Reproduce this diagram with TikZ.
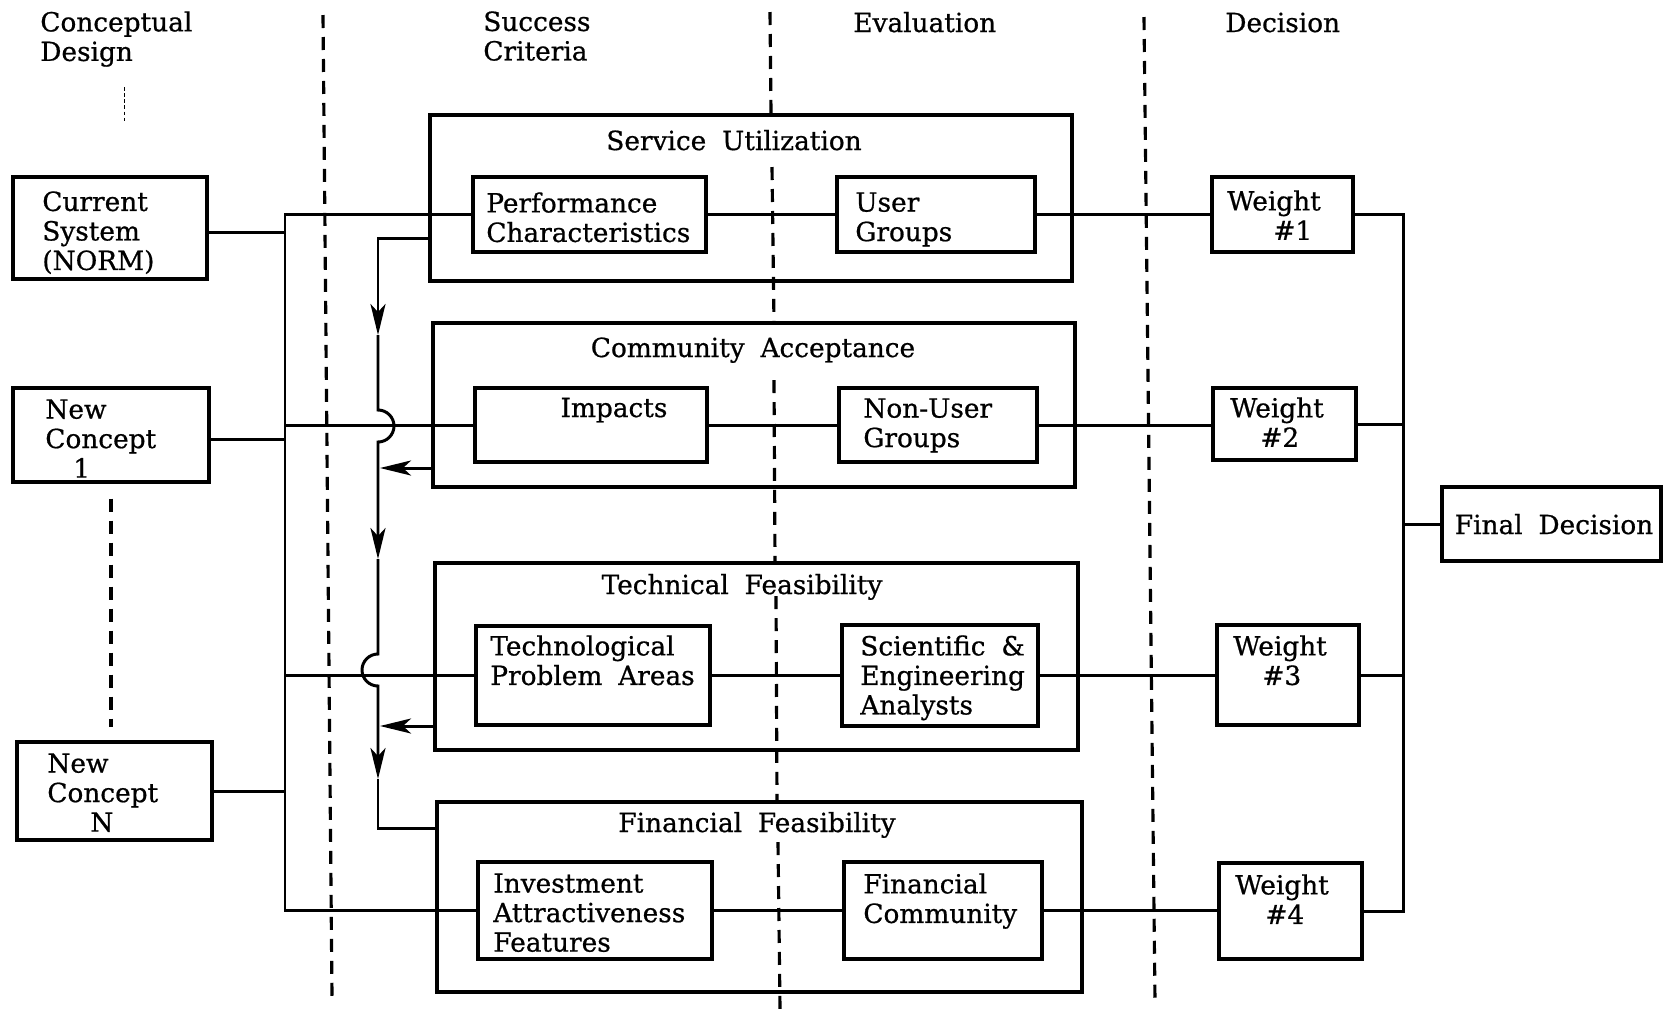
\documentclass[tikz,border=0pt]{standalone}
\usepackage{fontspec}
\setmainfont{DejaVu Serif}[FakeBold=0.7]
\usetikzlibrary{arrows.meta, fit}

\begin{document}
\begin{tikzpicture}[
    x=0.02cm, y=-0.02cm,
    box/.style={draw, rectangle, line width=1.8pt, inner sep=0pt},
    txt/.style={inner sep=0pt, align=left},
    wire/.style={line width=1.7pt},
    arrow/.style={wire, -{Stealth[length=0.62cm, width=0.3cm, inset=0.16cm]}},
    sep/.style={line width=1.8pt, dash pattern=on 0.26cm off 0.18cm},
    font={\fontsize{15}{16.8}\selectfont\spaceskip=0.6em\relax}
]
\useasboundingbox (0,0) rectangle (1669,1009);

% Column headings
\node[txt, anchor=north west] (hdCon) at (40,11) {Conceptual\\Design};
\node[txt, anchor=north west] (hdSuc) at (483,11) {Success\\Criteria};
\node[txt, anchor=base west] (hdEva) at (853,32) {Evaluation};
\node[txt, anchor=base west] (hdDec) at (1225,32) {Decision};

% Separators
\draw[sep] (323,15) -- (332,996);
\draw[sep] (770,12) -- (771,113);
\draw[sep] (772,167) -- (774,323);
\draw[sep] (774,380) -- (775,563);
\draw[sep] (776,596) -- (777,802);
\draw[sep] (778,842) -- (780,1009);
\draw[sep] (1144,17) -- (1155,1002);
\draw[line width=0.4pt, dash pattern=on 2pt off 1.5pt] (124,87) -- (124,122);

% Concepts
\node[box, fit={(13,177) (207,279)}] (cur) {};
\node[txt, anchor=north west] (curT) at (42,191) {Current\\System\\(NORM)};
\node[box, fit={(13,388) (209,482)}] (nc1) {};
\node[txt, anchor=north west] (nc1T) at (45,399) {New\\Concept\\\hspace*{0.56cm}1};
\node[box, fit={(17,742) (212,840)}] (ncN) {};
\node[txt, anchor=north west] (ncNT) at (47,753) {New\\Concept\\\hspace*{0.86cm}N};
\draw[sep, shorten <=0.3cm, shorten >=0.26cm] (nc1.south) -- (nc1.south |- ncN.north);

% Criteria groups
\node[box, fit={(430,115) (1072,281)}] (su) {};
\node[txt, anchor=base] (suT) at (734,150) {Service Utilization};
\node[box, fit={(433,323) (1075,487)}] (ca) {};
\node[txt, anchor=base] (caT) at (753,357) {Community Acceptance};
\node[box, fit={(435,563) (1078,750)}] (tf) {};
\node[txt, anchor=base] (tfT) at (742,594) {Technical Feasibility};
\node[box, fit={(437,802) (1082,992)}] (ff) {};
\node[txt, anchor=base] (ffT) at (757,832) {Financial Feasibility};

% Criteria and evaluators
\node[box, fit={(473,177) (706,252)}] (perf) {};
\node[txt, anchor=north west] (perfT) at (486,192) {Performance\\Characteristics};
\node[box, fit={(837,177) (1035,252)}] (usr) {};
\node[txt, anchor=north west] (usrT) at (855,192) {User\\Groups};
\node[box, fit={(475,388) (707,462)}] (imp) {};
\node[txt, anchor=base] (impT) at (614,417) {Impacts};
\node[box, fit={(839,388) (1037,462)}] (nonu) {};
\node[txt, anchor=north west] (nonuT) at (863,398) {Non-User\\Groups};
\node[box, fit={(476,626) (710,725)}] (tech) {};
\node[txt, anchor=north west] (techT) at (490,635) {Technological\\Problem Areas};
\node[box, fit={(842,625) (1038,726)}] (sci) {};
\node[txt, anchor=north west] (sciT) at (860,635) {Scientific \&\\Engineering\\Analysts};
\node[box, fit={(478,862) (712,959)}] (inv) {};
\node[txt, anchor=north west] (invT) at (493,873) {Investment\\Attractiveness\\Features};
\node[box, fit={(844,862) (1042,959)}] (fin) {};
\node[txt, anchor=north west] (finT) at (863,873) {Financial\\Community};

% Weights and decision
\node[box, fit={(1212,177) (1353,252)}] (w1) {};
\node[txt, anchor=north west] (w1T) at (1227,190) {Weight\\\hspace*{0.92cm}\#1};
\node[box, fit={(1213,388) (1356,460)}] (w2) {};
\node[txt, anchor=north west] (w2T) at (1230,397) {Weight\\\hspace*{0.6cm}\#2};
\node[box, fit={(1217,625) (1359,725)}] (w3) {};
\node[txt, anchor=north west] (w3T) at (1233,635) {Weight\\\hspace*{0.58cm}\#3};
\node[box, fit={(1219,863) (1362,959)}] (w4) {};
\node[txt, anchor=north west] (w4T) at (1235,874) {Weight\\\hspace*{0.6cm}\#4};
\node[box, fit={(1442,487) (1661,561)}] (fd) {};
\node[txt, anchor=base] (fdT) at (1554,534) {Final Decision};

% Left bus
\coordinate (lbus) at (285,0);
\draw[wire] (perf.west) -- (perf.west -| lbus) -- (inv.west -| lbus) -- (inv.west);
\draw[wire] (imp.west) -- (imp.west -| lbus);
\draw[wire] (tech.west) -- (tech.west -| lbus);
\draw[wire] ([yshift=-0.08cm]cur.east) -- ([yshift=-0.08cm]cur.east -| lbus);
\draw[wire] ([yshift=-0.08cm]nc1.east) -- ([yshift=-0.08cm]nc1.east -| lbus);
\draw[wire] (ncN.east) -- (ncN.east -| lbus);

% Rows
\draw[wire] (perf.east) -- (usr.west);
\draw[wire] (imp.east) -- (nonu.west);
\draw[wire] (tech.east) -- (sci.west);
\draw[wire] (inv.east) -- (fin.west);
\draw[wire] (usr.east) -- (usr.east -| w1.west);
\draw[wire] (nonu.east) -- (nonu.east -| w2.west);
\draw[wire] (sci.east) -- (sci.east -| w3.west);
\draw[wire] (fin.east) -- (fin.east -| w4.west);

% Right bus
\coordinate (rbus) at (1403,0);
\draw[wire] (w1.east) -- (w1.east -| rbus) -- (w4.east -| rbus) -- (w4.east);
\draw[wire] (w2.east) -- (w2.east -| rbus);
\draw[wire] (w3.east) -- (w3.east -| rbus);
\draw[wire] (fd.west -| rbus) -- (fd.west);

% Feedback loop
\coordinate (fb0) at (378,238);
\coordinate (fb1) at (378,335);
\coordinate (fb2) at (378,410);
\coordinate (fbA) at (380,468);
\coordinate (fb3) at (378,559);
\coordinate (fb4) at (378,654);
\coordinate (fbB) at (380,726);
\coordinate (fb5) at (378,779);
\coordinate (fb6) at (378,828);
\draw[arrow] (fb0 -| su.west) -- (fb0) -- (fb1);
\draw[arrow] (fb1) -- (fb2) arc[start angle=90, end angle=-90, radius=0.32cm] -- (fb3);
\draw[arrow] (fb3) -- (fb4) arc[start angle=90, end angle=270, radius=0.32cm] -- (fb5);
\draw[wire] (fb5) -- (fb6) -- (fb6 -| ff.west);
\draw[arrow] (fbA -| ca.west) -- (fbA);
\draw[arrow] (fbB -| tf.west) -- (fbB);

\end{tikzpicture}
\end{document}
